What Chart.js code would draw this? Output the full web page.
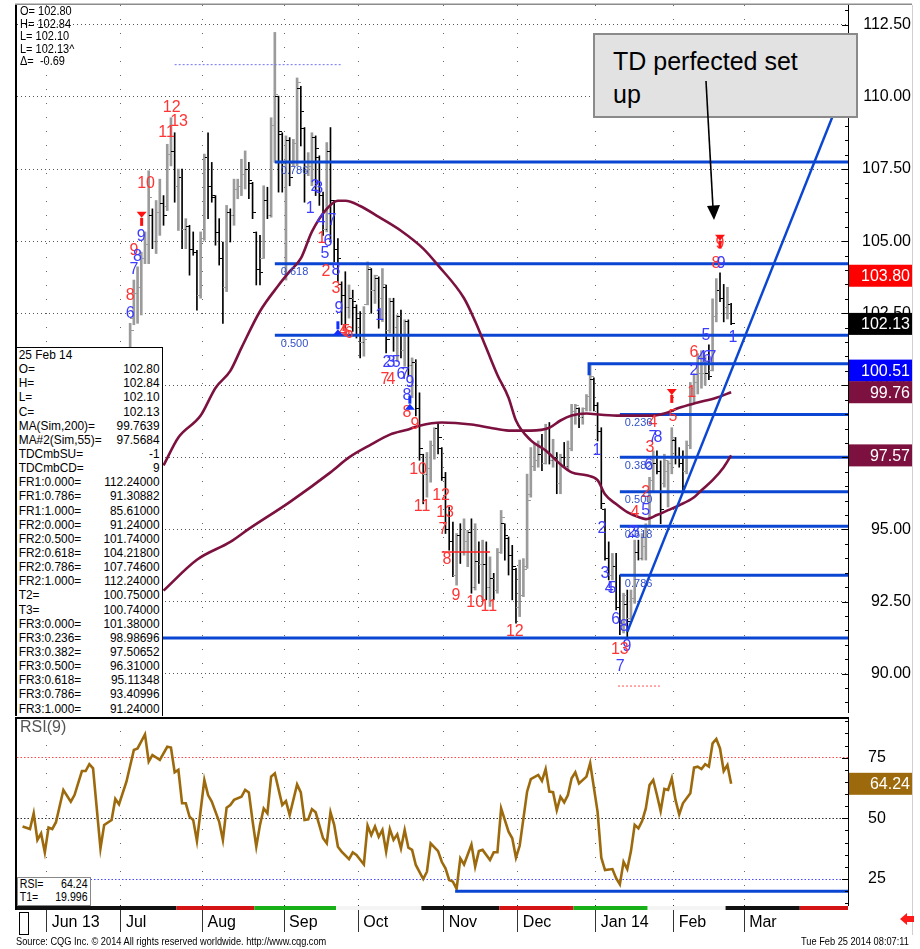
<!DOCTYPE html>
<html>
<head>
<meta charset="utf-8">
<title>CL daily - TD perfected set up</title>
<script src="https://cdn.jsdelivr.net/npm/chart.js@4.4.1/dist/chart.umd.min.js"></script>
<style>
    body { margin: 0; background: #fff; }
    #wrap { position: relative; width: 920px; height: 949px; overflow: hidden; font-family: "Liberation Sans", Arial, sans-serif; }
    canvas { position: absolute; left: 0; }
    #main { top: 0; }
    #rsi { top: 717px; }
    .squeeze { transform: scaleX(0.88); transform-origin: left top; }
    #ohlc { position: absolute; left: 20px; top: 5px; font-size: 12.5px; line-height: 12.5px; white-space: pre; color: #000; }
    #databox { position: absolute; left: 15px; top: 347px; width: 145px; height: 368px; background: #fff; overflow: hidden;
        border-left: 2px solid #000; border-top: 1px solid #000; border-right: 1px solid #000; }
    #rows { width: 164px; font-size: 13.5px; }
    #rows div { display: flex; justify-content: space-between; height: 14.15px; line-height: 14.15px; padding: 0 2px; }
    #callout { position: absolute; left: 593px; top: 33px; width: 265px; height: 85px; background: #e2e2e2;
        border: 2px solid #8a8a8a; font-size: 25px; line-height: 33px; padding: 10px 0 0 18px; box-sizing: border-box; }
    #arrow { position: absolute; left: 0; top: 0; }
    #rsiname { position: absolute; left: 20px; top: 718px; font-size: 16px; color: #555; }
    #rsibox { position: absolute; left: 17px; top: 877px; width: 72px; height: 27px; background: #fff; border: 1px solid #888; overflow: hidden; }
    #rsibox .in { width: 81px; font-size: 12px; line-height: 13px; }
    #rsibox .in div { display: flex; justify-content: space-between; padding: 0 2px; }
    #scroll { position: absolute; left: 19px; top: 912px; width: 8px; height: 21px; border: 1px solid #000; }
    #flag { position: absolute; left: 899px; top: 912px; }
    #source { position: absolute; left: 16px; top: 935px; font-size: 10.5px; white-space: nowrap; }
    #stamp { position: absolute; left: 801px; top: 935px; font-size: 10.5px; white-space: nowrap; }
</style>
</head>
<body>
<div id="wrap">
    <canvas id="main" width="920" height="717"></canvas>
    <canvas id="rsi" width="920" height="222"></canvas>
    <div id="ohlc" class="squeeze">O= 102.80
H= 102.84
L= 102.10
L= 102.13^
Δ=  -0.69</div>
    <div id="databox"><div id="rows" class="squeeze"></div></div>
    <div id="callout">TD perfected set<br>up</div>
    <svg id="arrow" width="920" height="300">
        <line x1="706" y1="81" x2="713" y2="208" stroke="#000" stroke-width="1.6"/>
        <polygon points="707,206 720,205 714,220" fill="#000"/>
    </svg>
    <div id="rsiname">RSI(9)</div>
    <div id="rsibox"><div class="in squeeze"><div><span>RSI=</span><span>64.24</span></div><div><span>T1=</span><span>19.996</span></div></div></div>
    <div id="scroll"></div>
    <svg id="flag" width="16" height="14"><polygon points="1,7 8,1 8,4 15,4 15,10 8,10 8,13" fill="#ff1a1a"/></svg>
    <div id="source" class="squeeze">Source: CQG Inc. © 2014 All rights reserved worldwide. http://www.cqg.com</div>
    <div id="stamp" class="squeeze">Tue Feb 25 2014 08:07:11</div>
</div>
<script>
//  Daily crude bars, TD counts, fibs and RSI(9)

const monthStarts = [8, 28, 50, 72, 92, 115, 135, 156, 177, 196];
const monthLabels = ["Jun 13", "Jul", "Aug", "Sep", "Oct", "Nov", "Dec", "Jan 14", "Feb", "Mar"];
const priceTicks = [90, 92.5, 95, 97.5, 100, 102.5, 105, 107.5, 110, 112.5];
const rsiTicks = [25, 50, 75];
const priceMinorStep = 0.5, rsiMinorStep = 5;

// bars start at index 30 (3 Jul); earlier bars sit under the data box
const firstBar = 30;
const barOpen = [
    101.0, 102.3, 103.2, 103.4, 104.4, 104.9, 105.9, 105.0, 106.0, 106.3,
    106.2, 108.0, 108.1, 106.9, 107.2, 105.4, 105.5, 104.7, 104.6, 103.1,
    105.1, 107.9, 106.9, 106.5, 105.3, 104.4, 103.4, 106.0, 105.9, 106.8,
    106.9, 107.3, 107.5, 107.0, 105.3, 104.0, 104.4, 106.4, 105.9, 109.0,
    110.0, 108.7, 107.7, 108.5, 107.7, 108.4, 110.3, 108.9, 107.4, 107.6,
    108.6, 107.9, 106.6, 105.4, 108.1, 106.4, 104.7, 103.5, 103.1, 102.7,
    103.0, 102.7, 102.3, 101.5, 102.8, 104.0, 103.3, 103.7, 103.0, 103.4,
    101.9, 102.9, 102.0, 102.4, 101.2, 102.2, 100.7, 100.8, 99.2, 97.6,
    96.9, 97.1, 97.9, 98.5, 97.8, 96.8, 95.0, 94.6, 93.4, 94.8,
    94.2, 94.6, 94.9, 93.0, 93.9, 93.8, 93.8, 93.0, 93.3, 92.9,
    94.2, 95.2, 94.7, 94.1, 93.6, 92.3, 92.7, 93.7, 96.2, 97.2,
    97.4, 97.6, 97.3, 98.5, 97.4, 97.5, 96.6, 97.5, 97.2, 97.8,
    99.1, 99.2, 98.9, 99.2, 99.6, 100.2, 99.3, 98.4, 95.7, 94.0,
    93.4, 93.7, 92.3, 91.7, 92.4, 91.9, 92.6, 94.2, 94.0, 94.4,
    95.1, 96.7, 97.3, 97.0, 96.6, 97.0, 97.3, 98.1, 97.5, 97.3,
    97.0, 97.9, 99.9, 100.1, 100.4, 100.4, 100.4, 100.5, 102.4, 103.3,
    103.0, 102.7, 102.80
];
const barHigh = [
    102.15, 103.65, 104.11, 104.62, 105.32, 107.44, 106.12, 106.41, 107.15, 106.58,
    108.36, 109.28, 108.76, 107.5, 107.5, 105.78, 105.55, 105.32, 104.68, 105.32,
    108.02, 108.76, 107.73, 106.58, 105.78, 104.97, 106.24, 106.12, 107.15, 107.15,
    107.84, 108.13, 107.73, 107.04, 105.32, 105.2, 106.92, 106.87, 109.28, 112.24,
    110.03, 108.76, 108.65, 108.59, 108.53, 110.66, 110.37, 108.94, 108.07, 108.76,
    108.65, 107.96, 106.7, 108.42, 108.94, 106.41, 105.09, 103.59, 103.94, 103.48,
    103.3, 102.79, 102.56, 102.73, 104.28, 104.05, 103.82, 103.76, 104.05, 103.48,
    103.02, 103.02, 102.44, 102.61, 102.27, 102.27, 100.95, 100.89, 99.74, 97.61,
    97.67, 98.07, 98.53, 98.71, 97.84, 96.98, 95.78, 95.26, 94.86, 95.2,
    95.37, 94.97, 95.37, 95.2, 94.57, 94.63, 94.57, 94.05, 93.48, 94.34,
    95.66, 95.2, 94.74, 94.45, 93.65, 93.94, 93.99, 96.92, 97.84, 97.96,
    98.07, 98.3, 98.65, 98.71, 98.13, 97.67, 97.61, 98.02, 98.07, 99.34,
    99.34, 99.22, 99.22, 99.68, 100.75, 100.26, 99.4, 98.53, 95.72, 94.57,
    94.17, 94.17, 93.42, 92.79, 92.9, 92.9, 94.63, 94.63, 94.86, 95.2,
    96.81, 97.73, 97.73, 97.38, 97.61, 97.38, 98.53, 98.19, 97.84, 97.73,
    98.07, 100.1, 100.4, 101.1, 101.2, 101.0, 101.4, 103.0, 103.7, 103.9,
    103.5, 103.4, 102.84
];
const barLow = [
    100.8, 102.1, 102.15, 102.44, 104.22, 104.22, 104.74, 104.57, 105.2, 105.55,
    106.06, 107.61, 106.35, 105.37, 104.74, 104.74, 103.82, 104.51, 102.61, 103.02,
    105.03, 105.78, 106.35, 104.86, 104.17, 102.15, 103.25, 104.97, 105.55, 106.47,
    106.58, 106.81, 106.47, 105.78, 103.48, 103.48, 104.4, 105.78, 105.83, 107.73,
    106.7, 106.7, 103.65, 106.92, 107.61, 107.61, 108.3, 106.35, 107.27, 106.92,
    106.58, 106.24, 105.2, 105.32, 104.97, 104.28, 103.6, 102.1, 101.98, 102.33,
    101.87, 101.64, 100.95, 101.01, 102.79, 102.5, 102.84, 101.98, 102.21, 101.12,
    101.81, 101.18, 100.83, 100.95, 100.66, 100.32, 99.57, 98.94, 97.4, 95.89,
    96.12, 96.64, 97.44, 97.62, 96.7, 94.86, 94.28, 93.36, 93.07, 93.82,
    94.11, 93.71, 92.79, 92.9, 93.13, 92.56, 92.56, 92.33, 92.56, 92.79,
    94.17, 93.94, 93.42, 92.56, 91.75, 91.98, 92.67, 93.65, 96.12, 97.04,
    97.16, 97.04, 97.27, 97.27, 97.16, 96.24, 96.24, 97.16, 97.04, 97.73,
    98.65, 98.53, 98.65, 99.11, 99.11, 99.11, 98.07, 95.72, 93.94, 93.25,
    93.25, 92.21, 91.35, 91.41, 91.24, 91.87, 92.44, 93.94, 93.94, 93.94,
    95.09, 96.35, 96.93, 95.2, 96.47, 95.78, 96.93, 97.27, 97.16, 96.35,
    96.93, 97.8, 99.4, 99.7, 99.9, 100.0, 100.2, 100.5, 102.2, 102.9,
    102.2, 102.3, 102.10
];
const barClose = [
    101.9, 103.2, 103.4, 104.4, 104.9, 106.5, 105.0, 106.0, 106.3, 105.9,
    108.0, 108.1, 106.9, 107.2, 105.4, 105.5, 104.7, 104.6, 103.1, 105.0,
    107.9, 106.9, 106.6, 105.3, 104.4, 103.4, 106.0, 105.9, 106.8, 106.9,
    107.3, 107.5, 107.1, 106.0, 104.0, 103.9, 106.4, 105.9, 109.0, 110.1,
    108.8, 107.7, 108.5, 107.2, 108.4, 110.5, 109.5, 107.4, 107.6, 108.6,
    108.2, 106.6, 105.4, 108.1, 106.4, 104.7, 104.4, 103.1, 102.7, 103.0,
    102.9, 102.3, 101.5, 101.6, 104.1, 103.3, 103.8, 103.0, 103.5, 101.6,
    102.9, 102.0, 102.4, 101.2, 102.2, 100.7, 100.8, 99.2, 97.8, 96.9,
    97.1, 97.9, 98.5, 98.2, 96.8, 95.0, 94.6, 93.4, 94.8, 94.2,
    94.6, 94.9, 93.0, 93.9, 93.8, 93.8, 93.0, 93.3, 92.9, 94.2,
    95.4, 94.8, 94.1, 93.7, 92.3, 92.7, 93.6, 96.0, 97.2, 97.4,
    97.6, 97.3, 98.5, 97.4, 97.5, 96.6, 97.5, 97.2, 97.8, 99.1,
    99.3, 98.9, 99.2, 99.6, 100.3, 99.3, 98.4, 95.9, 94.0, 93.4,
    93.7, 92.3, 91.7, 92.7, 91.8, 92.6, 94.2, 94.0, 94.4, 95.0,
    96.7, 97.3, 97.0, 95.7, 97.4, 97.3, 98.2, 97.5, 97.3, 96.5,
    97.9, 99.9, 100.1, 100.4, 100.4, 100.4, 100.3, 102.4, 103.3, 103.0,
    102.7, 102.8, 102.13
];

// moving averages: [bar, value]
const ma55 = [
    [39, 97.22], [43, 98.19], [49, 98.95], [53, 99.91], [57, 100.5], [60, 101.3], [65, 102.57],
    [70, 103.47], [73, 103.95], [76, 104.4], [79, 105.33], [83, 106.12], [86, 106.4], [88, 106.4],
    [92, 106.22], [97, 105.84], [103, 105.36], [109, 104.74], [113, 104.16], [120, 103.02],
    [123, 102.22], [126, 101.29], [129, 100.36], [132, 99.57], [134, 98.78], [138, 98.09],
    [142, 97.74], [146, 97.26], [149, 96.98], [153, 96.88], [156, 96.71], [158, 96.22],
    [161, 95.88], [164, 95.6], [167, 95.43], [169, 95.36], [172, 95.5], [175, 95.67],
    [178, 95.84], [182, 96.12], [184, 96.36], [187, 96.71], [190, 97.16], [192, 97.57]
];
const ma200 = [
    [39, 92.88], [48, 93.95], [57, 94.57], [62, 95.02], [73, 95.95], [84, 96.98], [89, 97.5],
    [95, 97.95], [100, 98.29], [105, 98.47], [108, 98.6], [114, 98.71], [122, 98.64],
    [127, 98.53], [132, 98.43], [138, 98.43], [143, 98.53], [146, 98.78], [149, 98.95],
    [153, 99.02], [157, 98.98], [162, 98.95], [171, 98.95], [174, 99.02], [178, 99.22],
    [183, 99.4], [188, 99.57], [192, 99.76]
];

const rsi = [
    [1, 46.6], [3, 45.6], [4, 52.1], [5, 41.1], [6, 43.8], [7, 36], [8, 46.2], [9, 45.6], [10, 48.4],
    [12, 61.7], [14, 56.9], [15, 59.6], [17, 69.5], [18, 69.5], [19, 72.3], [20, 70.6], [22, 37.6],
    [23, 47.3], [25, 49.3], [26, 58], [27, 55.8], [29, 65.1], [31, 78.2], [32, 78.8], [34, 84.6],
    [35, 73.4], [36, 76.1], [38, 74.1], [40, 79.5], [41, 79.2], [42, 69], [43, 70], [44, 56.2],
    [45, 56.2], [46, 50.7], [47, 49.3], [48, 40.7], [50, 65.8], [51, 59.6], [52, 56.9], [54, 48.6],
    [55, 41.1], [56, 54.4], [57, 55.5], [58, 57.6], [60, 58.9], [61, 61.7], [62, 60.7], [63, 48.9],
    [64, 38.3], [65, 47.3], [66, 54.1], [67, 52.1], [68, 67.2], [69, 68.5], [71, 55.5], [72, 57.1],
    [73, 51.4], [75, 64], [76, 60.7], [77, 49.3], [78, 49.6], [79, 53.8], [80, 52.5], [82, 41.8],
    [83, 39.7], [84, 52.5], [85, 47.3], [86, 38.3], [87, 36.3], [89, 33.2], [90, 36], [91, 34.9],
    [93, 31], [94, 47], [95, 43.1], [96, 46.6], [97, 42.4], [98, 45.2], [99, 36.3], [100, 45.6],
    [101, 41.1], [102, 43.4], [103, 37.6], [104, 45.2], [105, 37.9], [106, 37], [107, 30.8],
    [109, 25], [110, 28], [111, 39.7], [113, 36.5], [114, 32.1], [115, 29.4], [116, 24.6],
    [117, 23.9], [118, 20.9], [119, 33.5], [120, 31], [122, 39.2], [123, 30.1], [124, 36.5],
    [125, 37], [127, 32.8], [128, 36], [129, 36], [130, 54.1], [132, 44.5], [133, 41.8], [134, 33.8],
    [135, 38.7], [137, 61], [138, 66.2], [140, 67.9], [141, 65.4], [142, 70.3], [143, 61], [144, 60.8],
    [145, 53.4], [146, 58.9], [147, 56.6], [148, 59.6], [149, 66.5], [150, 69], [151, 64.4],
    [153, 67.2], [154, 72.7], [156, 52.7], [157, 33.8], [158, 28.7], [160, 29.1], [161, 25.3],
    [162, 22.8], [163, 32.1], [164, 29.1], [165, 36.5], [166, 47.3], [167, 45.9], [168, 48.9],
    [169, 54.1], [170, 63.7], [171, 65.8], [172, 59.6], [173, 53], [174, 62.1], [175, 61.7],
    [176, 66.5], [177, 57.6], [178, 51.6], [179, 56.2], [181, 60.3], [182, 70.9], [183, 71.3],
    [184, 70.3], [185, 72.3], [186, 71.3], [187, 80.9], [188, 82.7], [189, 78.8], [190, 69.5],
    [191, 72], [192, 64.24]
];

// fibonacci retracements: [ratio, price], drawn from a start bar to the right edge
const fr2Start = 69;
const fr2Levels = [[0.5, 101.74], [0.618, 104.218], [0.786, 107.746]];
const fr3Start = 162;
const fr3Levels = [[0.236, 98.98696], [0.382, 97.50652], [0.5, 96.31], [0.618, 95.11348], [0.786, 93.40996]];
const frBase = 91.24;
const t2Start = 153.7, t2Value = 100.75;
const trendLine = [[164, 91.45], [223.5, 110.67]];
const tdstLine = [[114, 94.22], [127, 94.22]];
const riskLine = [[161.5, 89.57], [172.8, 89.57]];
const oldHigh = [[42, 111.12], [87, 111.12]];
const rsiT1 = [[117.6, 19.996], [223.5, 19.996]];

// TD setup / countdown numbers: [bar, price, text, colour]
const tdMarks = [
    [30, 102.5, "6", "b"], [30, 103.12, "8", "r"], [31, 104.02, "7", "b"], [31, 104.67, "9", "r"],
    [32, 104.47, "8", "b"], [33, 105.16, "9", "b"], [34.3, 106.98, "10", "r"], [39.8, 108.78, "11", "r"],
    [41.2, 109.64, "12", "r"], [43.2, 109.16, "13", "r"],
    [78.5, 106.12, "1", "b"], [79.8, 106.88, "2", "b"], [80.8, 106.81, "3", "b"], [81.4, 105.71, "4", "b"],
    [82.5, 104.57, "5", "b"], [83.3, 104.98, "6", "b"], [84.4, 105.71, "7", "b"], [85.5, 103.98, "8", "b"],
    [86.3, 102.67, "9", "b"], [81.6, 105.09, "1", "r"], [82.8, 103.95, "2", "r"], [85.5, 103.36, "3", "r"],
    [87.4, 101.88, "4", "r"], [88.2, 101.88, "5", "r"], [89, 101.8, "6", "r"],
    [97.3, 102.43, "1", "b"], [99.2, 100.78, "2", "b"], [100.3, 100.78, "3", "b"], [101.7, 100.78, "5", "b"],
    [103, 100.36, "6", "b"], [104.1, 100.36, "7", "b"], [104.6, 99.64, "8", "b"], [105.4, 100.09, "9", "b"],
    [98.7, 100.19, "7", "r"], [100.3, 100.19, "4", "r"], [104.6, 99.05, "8", "r"], [106.8, 98.64, "9", "r"],
    [107.6, 97.09, "10", "r"], [108.7, 95.81, "11", "r"], [113.8, 96.19, "12", "r"], [114.9, 95.6, "13", "r"],
    [114.3, 94.98, "7", "r"], [115.4, 93.95, "8", "r"], [117.8, 92.71, "9", "r"], [123, 92.47, "10", "r"],
    [126.7, 92.33, "11", "r"], [133.7, 91.47, "12", "r"],
    [155.8, 97.74, "1", "b"], [157.2, 95.02, "2", "b"], [158, 93.47, "3", "b"], [159.1, 92.95, "4", "b"],
    [159.9, 92.95, "5", "b"], [160.9, 91.88, "6", "b"], [162.1, 90.26, "7", "b"], [163.1, 91.64, "8", "b"],
    [163.9, 90.95, "9", "b"], [162, 90.84, "13", "r"], [165.2, 94.9, "2", "b"], [166.2, 94.9, "3", "b"],
    [166.1, 95.6, "4", "r"], [169, 95.67, "5", "b"], [169, 96.29, "2", "r"], [169.8, 97.22, "6", "b"],
    [170.1, 97.84, "3", "r"], [170.9, 98.19, "7", "b"], [172.3, 98.19, "8", "b"], [170.9, 98.71, "4", "r"],
    [176.3, 98.91, "5", "r"], [181.4, 99.74, "1", "r"], [182, 100.5, "2", "b"], [182, 101.12, "6", "r"],
    [184.1, 100.95, "4", "b"], [185.5, 100.95, "6", "b"], [186.8, 100.95, "7", "b"], [185.2, 101.71, "5", "b"],
    [192.5, 101.64, "1", "b"], [187.9, 104.22, "8", "r"], [189.3, 104.22, "9", "b"], [189, 104.91, "9", "r"]
];
// [bar, price, direction, colour]
const tdArrows = [[33.1, 106.05, -1, "r"], [86, 101.7, 1, "b"], [105.4, 99.12, 1, "b"], [176, 99.91, -1, "r"], [189, 105.26, -1, "r"]];

const priceBoxes = [[103.80, "#ff0000"], [102.13, "#000000"], [100.51, "#0000ff"], [99.76, "#7c1140"], [97.57, "#7c1140"]];
const rsiBoxes = [[64.24, "#9c6a0c"]];

// contract roll strip under the RSI pane
const rollEdges = [-0.5, 42.5, 63.5, 85.5, 108.5, 129.5, 149.5, 169.5, 190.5, 210.5, 223.5];
const rollColors = ["#111111", "#d41414", "#18b018", "#f4f4f4"];

const dataRows = [
    ["25 Feb 14", ""], ["O=", "102.80"], ["H=", "102.84"], ["L=", "102.10"], ["C=", "102.13"],
    ["MA(Sim,200)=", "99.7639"], ["MA#2(Sim,55)=", "97.5684"], ["TDCmbSU=", "-1"], ["TDCmbCD=", "9"],
    ["FR1:0.000=", "112.24000"], ["FR1:0.786=", "91.30882"], ["FR1:1.000=", "85.61000"],
    ["FR2:0.000=", "91.24000"], ["FR2:0.500=", "101.74000"], ["FR2:0.618=", "104.21800"],
    ["FR2:0.786=", "107.74600"], ["FR2:1.000=", "112.24000"], ["T2=", "100.75000"], ["T3=", "100.74000"],
    ["FR3:0.000=", "101.38000"], ["FR3:0.236=", "98.98696"], ["FR3:0.382=", "97.50652"],
    ["FR3:0.500=", "96.31000"], ["FR3:0.618=", "95.11348"], ["FR3:0.786=", "93.40996"], ["FR3:1.000=", "91.24000"]
];

const rows = document.getElementById("rows");
dataRows.forEach(r => {
    const row = document.createElement("div");
    row.innerHTML = "<span>" + r[0] + "</span><span>" + r[1] + "</span>";
    rows.appendChild(row);
});

const RED = "#ff3434", BLUE = "#3c3cff", FIB = "#0a46d2", MAROON = "#7c1140", GRAY = "#9b9b9b";
const tdColor = c => (c === "r" ? RED : BLUE);
const pts = arr => arr.map(p => ({ x: p[0], y: p[1] }));

// little tick images for open (left) and close (right)
function tickImage(side, color) {
    const c = document.createElement("canvas");
    c.width = 7;
    c.height = 1;
    const g = c.getContext("2d");
    g.fillStyle = color;
    g.fillRect(side === "left" ? 0 : 4, 0, 3, 1);
    return c;
}
const openImg = { up: tickImage("left", GRAY), down: tickImage("left", "#000") };
const closeImg = { up: tickImage("right", GRAY), down: tickImage("right", "#000") };

const upBars = [], downBars = [], openPts = [], closePts = [];
for (let k = 0; k < barHigh.length; k++) {
    const i = firstBar + k;
    const bar = { x: i, y: [barLow[k], barHigh[k]] };
    if (barClose[k] >= barOpen[k]) upBars.push(bar); else downBars.push(bar);
    openPts.push({ x: i, y: barOpen[k] });
    closePts.push({ x: i, y: barClose[k] });
}
const isUp = k => barClose[k] >= barOpen[k];

function hLine(arr, color, width, dash, order) {
    return {
        type: "line", data: pts(arr), borderColor: color, borderWidth: width,
        borderDash: dash || [], pointRadius: 0, order: order, tension: 0
    };
}

const fibSets = [];
fr2Levels.forEach(l => fibSets.push(hLine([[fr2Start, l[1]], [223.5, l[1]]], FIB, 3, null, 4)));
fr3Levels.forEach(l => fibSets.push(hLine([[fr3Start, l[1]], [223.5, l[1]]], FIB, 3, null, 4)));
fibSets.push(hLine([[-0.5, frBase], [223.5, frBase]], FIB, 3, null, 4));
fibSets.push(hLine([[t2Start, t2Value - 0.4], [t2Start, t2Value], [223.5, t2Value]], FIB, 3, null, 4));

function drawArrow(ctx, x, y, dir, color) {
    ctx.save();
    ctx.fillStyle = color;
    ctx.fillRect(x - 1.5, y - 7 * dir + (dir < 0 ? 0 : -8), 3, 8);
    ctx.beginPath();
    ctx.moveTo(x - 5, y + dir * -1);
    ctx.lineTo(x + 5, y + dir * -1);
    ctx.lineTo(x, y - dir * 7);
    ctx.closePath();
    ctx.fill();
    ctx.restore();
}

function valueBox(ctx, y, text, bg) {
    ctx.save();
    ctx.fillStyle = bg;
    ctx.fillRect(849, y - 11, 63, 22);
    ctx.fillStyle = "#fff";
    ctx.font = "16px 'Liberation Sans', Arial, sans-serif";
    ctx.textAlign = "right";
    ctx.textBaseline = "middle";
    ctx.fillText(text, 910, y + 1);
    ctx.restore();
}

// short inward ticks on the price axis line, longer at labelled levels
function axisTicks(ctx, scale, step, major) {
    ctx.save();
    ctx.fillStyle = "#000";
    for (let v = Math.ceil(scale.min / step) * step; v <= scale.max; v += step) {
        const len = major.some(m => Math.abs(m - v) < 1e-6) ? 6 : 3;
        ctx.fillRect(scale.left - len, Math.round(scale.getPixelForValue(v)), len, 1);
    }
    ctx.restore();
}

// keep the plot area where the reference has it: no extra room for edge labels
const noPad = s => { s.paddingTop = 0; s.paddingBottom = 0; s.paddingLeft = 0; s.paddingRight = 0; };

const mainMarks = {
    id: "mainMarks",
    afterDatasetsDraw(chart) {
        const { ctx, scales: { x, y } } = chart;
        ctx.save();
        ctx.font = "16px 'Liberation Sans', sans-serif";
        ctx.textAlign = "center";
        ctx.textBaseline = "middle";
        tdMarks.forEach(m => {
            ctx.fillStyle = tdColor(m[3]);
            ctx.fillText(m[2], x.getPixelForValue(m[0]), y.getPixelForValue(m[1]));
        });
        tdArrows.forEach(a => drawArrow(ctx, x.getPixelForValue(a[0]), y.getPixelForValue(a[1]), a[2], a[3] === "r" ? "#ff1010" : "#1030ff"));
        ctx.font = "11px 'Liberation Sans', sans-serif";
        ctx.textAlign = "left";
        ctx.textBaseline = "top";
        ctx.fillStyle = "#3050c8";
        fr2Levels.forEach(l => ctx.fillText(l[0].toFixed(3), x.getPixelForValue(fr2Start) + 6, y.getPixelForValue(l[1]) + 3));
        fr3Levels.forEach(l => ctx.fillText(l[0].toFixed(3), x.getPixelForValue(fr3Start) + 5, y.getPixelForValue(l[1]) + 3));
        ctx.restore();
    },
    afterDraw(chart) {
        const { ctx, chartArea: a, scales: { y } } = chart;
        ctx.save();
        ctx.fillStyle = "#000";
        ctx.fillRect(a.left - 2, a.top, 2, a.bottom - a.top);
        ctx.fillStyle = "#8c8c8c";
        ctx.fillRect(a.left - 2, a.top - 1.5, 914 - a.left, 1.5);
        ctx.fillStyle = "#d0d0d0";
        ctx.fillRect(912, a.top, 1, chart.height - a.top);
        ctx.restore();
        axisTicks(ctx, y, priceMinorStep, priceTicks);
        priceBoxes.forEach(b => valueBox(ctx, y.getPixelForValue(b[0]), b[0].toFixed(2), b[1]));
    }
};

const rsiMarks = {
    id: "rsiMarks",
    afterDraw(chart) {
        const { ctx, chartArea: a, scales: { x, y } } = chart;
        ctx.save();
        for (let s = 0; s < rollEdges.length - 1; s++) {
            const x0 = x.getPixelForValue(rollEdges[s]), x1 = x.getPixelForValue(rollEdges[s + 1]);
            ctx.fillStyle = rollColors[s % rollColors.length];
            ctx.fillRect(x0, a.bottom + 1, x1 - x0, 4);
        }
        ctx.fillStyle = "#000";
        ctx.fillRect(a.left - 2, a.top - 1, a.right - a.left + 2, 3);
        ctx.fillRect(a.left - 2, a.top, 2, a.bottom - a.top + 5);
        ctx.fillStyle = "#d0d0d0";
        ctx.fillRect(912, 0, 1, a.bottom + 30);
        ctx.restore();
        axisTicks(ctx, y, rsiMinorStep, rsiTicks);
        rsiBoxes.forEach(b => valueBox(ctx, y.getPixelForValue(b[0]), b[0].toFixed(2), b[1]));
    }
};

const monthTicks = scale => { scale.ticks = monthStarts.map(m => ({ value: m - 0.5 })); };

new Chart(document.getElementById("main"), {
    type: "line",
    data: {
        datasets: [
            hLine(trendLine, FIB, 2.5, null, 1),
            {
                type: "line", data: pts(ma55), borderColor: MAROON, borderWidth: 2.6,
                pointRadius: 0, cubicInterpolationMode: "monotone", order: 2
            },
            {
                type: "line", data: pts(ma200), borderColor: MAROON, borderWidth: 2.6,
                pointRadius: 0, cubicInterpolationMode: "monotone", order: 2
            },
            ...fibSets,
            hLine(tdstLine, "#ff2020", 1.5, null, 3),
            hLine(riskLine, "#ff5050", 1, [2, 2], 3),
            hLine(oldHigh, "#7070ff", 1, [2, 2], 3),
            {
                type: "line", data: openPts, showLine: false, pointRadius: 1, order: 8,
                pointStyle: c => (isUp(c.dataIndex) ? openImg.up : openImg.down)
            },
            {
                type: "line", data: closePts, showLine: false, pointRadius: 1, order: 8,
                pointStyle: c => (isUp(c.dataIndex) ? closeImg.up : closeImg.down)
            },
            { type: "bar", data: upBars, backgroundColor: GRAY, barThickness: 2, grouped: false, order: 9 },
            { type: "bar", data: downBars, backgroundColor: "#000", barThickness: 1, grouped: false, order: 9 }
        ]
    },
    options: {
        responsive: false,
        animation: false,
        events: [],
        layout: { padding: { left: 17, top: 5, right: 9, bottom: 1 } },
        plugins: { legend: { display: false }, tooltip: { enabled: false } },
        scales: {
            x: {
                type: "linear", min: -0.5, max: 223.5, offset: false,
                afterBuildTicks: monthTicks,
                afterFit: s => { s.height = 0; noPad(s); },
                ticks: { display: false },
                grid: { color: "#666", drawTicks: false, offset: false },
                border: { display: false, dash: [1, 13] }
            },
            y: {
                position: "right", min: 88.67, max: 113.19,
                afterBuildTicks: s => { s.ticks = priceTicks.map(v => ({ value: v })); },
                afterFit: s => { s.width = 63; noPad(s); },
                ticks: {
                    callback: v => v.toFixed(2), color: "#000", padding: 6, crossAlign: "far",
                    font: { family: "'Liberation Sans', Arial, sans-serif", size: 16 }
                },
                grid: { color: "#555", drawTicks: false },
                border: { display: true, color: "#000", width: 1, dash: [1, 3] }
            }
        }
    },
    plugins: [mainMarks]
});

new Chart(document.getElementById("rsi"), {
    type: "line",
    data: {
        datasets: [
            hLine(rsiT1, FIB, 3, null, 0),
            {
                data: pts(rsi), borderColor: "#9c6a0c", borderWidth: 2.6, pointRadius: 0,
                tension: 0, order: 1
            }
        ]
    },
    options: {
        responsive: false,
        animation: false,
        events: [],
        layout: { padding: { left: 17, top: 0, right: 9, bottom: 0 } },
        plugins: { legend: { display: false }, tooltip: { enabled: false } },
        scales: {
            x: {
                type: "linear", min: -0.5, max: 223.5, offset: false,
                afterBuildTicks: monthTicks,
                afterFit: s => { s.height = 34; noPad(s); },
                ticks: {
                    callback: (v, i) => monthLabels[i], align: "start", labelOffset: 5, padding: -19,
                    autoSkip: false, maxRotation: 0, minRotation: 0, color: "#000",
                    font: { family: "'Liberation Sans', Arial, sans-serif", size: 16 }
                },
                grid: { color: "#666", drawTicks: true, tickLength: 27, tickColor: "#333", tickWidth: 1, offset: false },
                border: { display: false, dash: [1, 13] }
            },
            y: {
                position: "right", min: 14.29, max: 91.77,
                afterBuildTicks: s => { s.ticks = rsiTicks.map(v => ({ value: v })); },
                afterFit: s => { s.width = 63; noPad(s); },
                ticks: {
                    color: "#000", padding: 20, crossAlign: "near",
                    font: { family: "'Liberation Sans', Arial, sans-serif", size: 16 }
                },
                grid: {
                    drawTicks: false,
                    color: c => (c.tick && c.tick.value === 75 ? "#ff4848" : c.tick && c.tick.value === 25 ? "#4848ff" : "#333")
                },
                border: { display: true, color: "#000", width: 1, dash: [1.5, 2] }
            }
        }
    },
    plugins: [rsiMarks]
});
</script>
</body>
</html>
